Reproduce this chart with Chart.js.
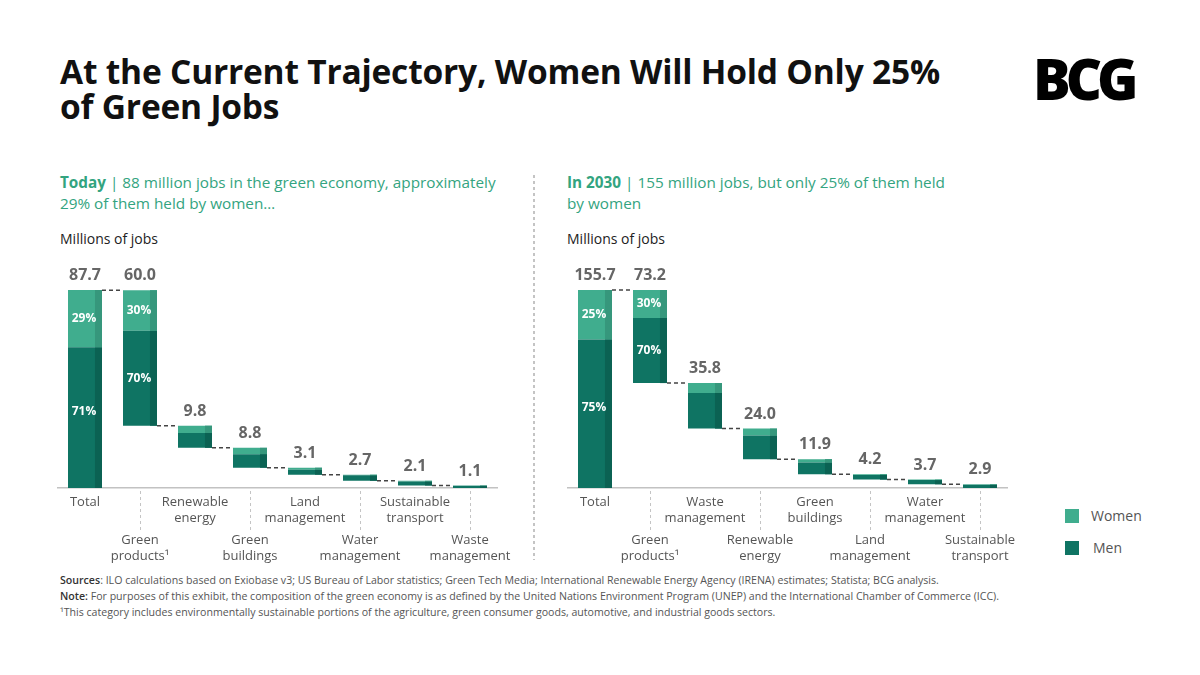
<!DOCTYPE html>
<html>
<head>
<meta charset="utf-8">
<script src="https://cdn.jsdelivr.net/npm/chart.js@4/dist/chart.umd.min.js"></script>
<style>
  html, body { margin:0; padding:0; background:#fff; }
  body { width:1200px; height:675px; position:relative; overflow:hidden; font-family:'Open Sans', sans-serif; }
  .abs { position:absolute; }
  #title { left:60px; top:54px; font-size:33.5px; line-height:35px; font-weight:700; color:#111; letter-spacing:-0.2px; white-space:nowrap; }
  #logo { left:1033px; top:50px; font-size:56px; line-height:56px; font-weight:800; color:#000; letter-spacing:-5px; }
  .sub { font-size:15.3px; line-height:21px; color:#33a480; white-space:nowrap; }
  .sub b { font-weight:700; }
  .unit { font-size:14px; line-height:18px; color:#222; }
  #sep { left:533px; top:175px; width:1.5px; height:385px; background:repeating-linear-gradient(to bottom, #c4c4c4 0 3px, transparent 3px 6px); }
  .foot { left:60px; font-size:10.6px; line-height:16px; color:#555; white-space:nowrap; }
  .foot b { color:#333; font-weight:600; }
  .sw { width:14px; height:14px; }
  .lg { font-size:14px; line-height:18px; color:#555; }
  canvas { position:absolute; }
</style>
</head>
<body>
<div id="title" class="abs">At the Current Trajectory, Women Will Hold Only 25%<br>of Green Jobs</div>
<div id="logo" class="abs">BCG</div>

<div class="abs sub" style="left:60px;top:172px;"><b>Today</b> | 88 million jobs in the green economy, approximately<br>29% of them held by women…</div>
<div class="abs sub" style="left:567px;top:172px;"><b>In 2030</b> | 155 million jobs, but only 25% of them held<br>by women</div>
<div class="abs unit" style="left:60px;top:230px;">Millions of jobs</div>
<div class="abs unit" style="left:567px;top:230px;">Millions of jobs</div>
<div id="sep" class="abs"></div>

<canvas id="left" width="480" height="315" style="left:40px;top:255px;width:480px;height:315px;"></canvas>
<canvas id="right" width="480" height="315" style="left:550px;top:255px;width:480px;height:315px;"></canvas>

<div class="abs sw" style="left:1065px;top:509px;background:#40ad8e;"></div>
<div class="abs lg" style="left:1091px;top:507px;">Women</div>
<div class="abs sw" style="left:1065px;top:541px;background:#0f7463;"></div>
<div class="abs lg" style="left:1093px;top:539px;">Men</div>

<div class="abs foot" style="top:572px;"><b>Sources</b>: ILO calculations based on Exiobase v3; US Bureau of Labor statistics; Green Tech Media; International Renewable Energy Agency (IRENA) estimates; Statista; BCG analysis.</div>
<div class="abs foot" style="top:588px;"><b>Note:</b> For purposes of this exhibit, the composition of the green economy is as defined by the United Nations Environment Program (UNEP) and the International Chamber of Commerce (ICC).</div>
<div class="abs foot" style="top:604px;">¹This category includes environmentally sustainable portions of the agriculture, green consumer goods, automotive, and industrial goods sectors.</div>

<script>
// ---- Data ----
const catsLeft = [['Total'], ['Green','products¹'], ['Renewable','energy'], ['Green','buildings'], ['Land','management'], ['Water','management'], ['Sustainable','transport'], ['Waste','management']];
const womenLeft = [25.4, 18.0, 3.2, 2.8, 0.9, 0.3, 0.3, 0.1];
const menLeft   = [62.3, 42.0, 6.6, 6.0, 2.2, 2.4, 1.8, 1.0];

const catsRight = [['Total'], ['Green','products¹'], ['Waste','management'], ['Renewable','energy'], ['Green','buildings'], ['Land','management'], ['Water','management'], ['Sustainable','transport']];
const womenRight = [38.9, 22.0, 7.8, 5.5, 2.7, 0.5, 0.4, 0.3];
const menRight   = [116.8, 51.2, 28.0, 18.5, 9.2, 3.7, 3.3, 2.6];

const seriesNames = ['Men', 'Women'];
const COLORS = { men:'#0f7463', women:'#40ad8e', menStrip:'#0b6253', womenStrip:'#36977c' };

Chart.defaults.font.family = "'Open Sans', sans-serif";

const decor = {
  id: 'decor',
  afterDatasetsDraw(chart) {
    const ctx = chart.ctx;
    const mMeta = chart.getDatasetMeta(0), wMeta = chart.getDatasetMeta(1);
    const strips = [COLORS.menStrip, COLORS.womenStrip];
    const sw = 7;
    ctx.save();
    [mMeta, wMeta].forEach((meta, k) => {
      meta.data.forEach(el => {
        const p = el.getProps(['x','y','base','width'], true);
        const top = Math.min(p.y, p.base), h = Math.abs(p.base - p.y);
        ctx.fillStyle = strips[k];
        ctx.fillRect(p.x + p.width/2 - sw, top, sw, h);
      });
    });
    // connectors
    ctx.setLineDash([4,3]); ctx.strokeStyle = '#444'; ctx.lineWidth = 1.5;
    for (let i = 0; i < wMeta.data.length - 1; i++) {
      const a = wMeta.data[i].getProps(['x','width'], true);
      const b = wMeta.data[i+1].getProps(['x','y','width'], true);
      ctx.beginPath();
      ctx.moveTo(a.x + a.width/2, b.y);
      ctx.lineTo(b.x - b.width/2, b.y);
      ctx.stroke();
    }
    // leader lines for second label row
    const bottom = chart.chartArea.bottom;
    ctx.setLineDash([3,3]); ctx.strokeStyle = '#c4c4c4'; ctx.lineWidth = 1;
    wMeta.data.forEach((el, i) => {
      if (i % 2 === 1) {
        const x = Math.round(el.x) + 0.5;
        ctx.beginPath(); ctx.moveTo(x, bottom + 3); ctx.lineTo(x, bottom + 42); ctx.stroke();
      }
    });
    ctx.setLineDash([]);
    // value labels
    const men = chart.data.datasets[0].raw, women = chart.data.datasets[1].raw;
    ctx.textAlign = 'center'; ctx.textBaseline = 'middle';
    wMeta.data.forEach((el, i) => {
      const p = el.getProps(['x','y'], true);
      ctx.fillStyle = '#666';
      ctx.font = "700 16px 'Open Sans'";
      ctx.fillText((men[i] + women[i]).toFixed(1), p.x, p.y - 14.5);
    });
    // percentage labels on first two bars
    ctx.fillStyle = '#fff';
    ctx.font = "700 12px 'Open Sans'";
    for (let i = 0; i < 2; i++) {
      const tot = men[i] + women[i];
      const w = wMeta.data[i].getProps(['x','y','base'], true);
      const m = mMeta.data[i].getProps(['x','y','base'], true);
      ctx.fillText(Math.round(women[i] / tot * 100) + '%', w.x - 1, (w.y + w.base) / 2);
      ctx.fillText(Math.round(men[i] / tot * 100) + '%', m.x - 1, (m.y + m.base) / 2 - (i === 0 ? 6 : 0));
    }
    ctx.restore();
  }
};

function buildChart(id, cats, women, men) {
  const n = cats.length;
  const totals = women.map((w, i) => w + men[i]);
  const base = new Array(n).fill(0);
  for (let i = n - 2; i >= 1; i--) base[i] = base[i+1] + totals[i+1];
  const menData = men.map((m, i) => [base[i], base[i] + m]);
  const womenData = women.map((w, i) => [base[i] + men[i], base[i] + men[i] + w]);
  const tickFont = { size: 13, lineHeight: '16px' };
  const fixPad = (h) => (scale) => { scale.height = h; scale.paddingLeft = 0; scale.paddingRight = 0; };
  return new Chart(document.getElementById(id), {
    type: 'bar',
    data: {
      labels: cats,
      datasets: [
        { label: seriesNames[0], data: menData, raw: men, backgroundColor: COLORS.men, grouped: false, borderWidth: 0, barPercentage: 0.618, categoryPercentage: 1 },
        { label: seriesNames[1], data: womenData, raw: women, backgroundColor: COLORS.women, grouped: false, borderWidth: 0, barPercentage: 0.618, categoryPercentage: 1 }
      ]
    },
    options: {
      responsive: false,
      animation: false,
      layout: { padding: { top: 35, left: 17.5, right: 22.5, bottom: 0 } },
      plugins: { legend: { display: false }, tooltip: { enabled: false } },
      scales: {
        y: { display: false, min: 0, max: totals[0], stacked: false },
        x: {
          offset: true, weight: 0,
          grid: { display: false, drawTicks: false },
          border: { display: true, color: '#c2c2c2', width: 1.5 },
          ticks: { autoSkip: false, maxRotation: 0, minRotation: 0, padding: 6, color: '#555', font: tickFont,
                   callback: (v, i) => i % 2 === 0 ? cats[i] : '' },
          afterFit: fixPad(38)
        },
        x2: {
          type: 'category', position: 'bottom', offset: true, weight: 1,
          grid: { display: false, drawTicks: false },
          border: { display: false },
          ticks: { autoSkip: false, maxRotation: 0, minRotation: 0, padding: 6, color: '#555', font: tickFont,
                   callback: (v, i) => i % 2 === 1 ? cats[i] : '' },
          afterFit: fixPad(44)
        }
      }
    },
    plugins: [decor]
  });
}

buildChart('left', catsLeft, womenLeft, menLeft);
buildChart('right', catsRight, womenRight, menRight);
</script>
</body>
</html>
